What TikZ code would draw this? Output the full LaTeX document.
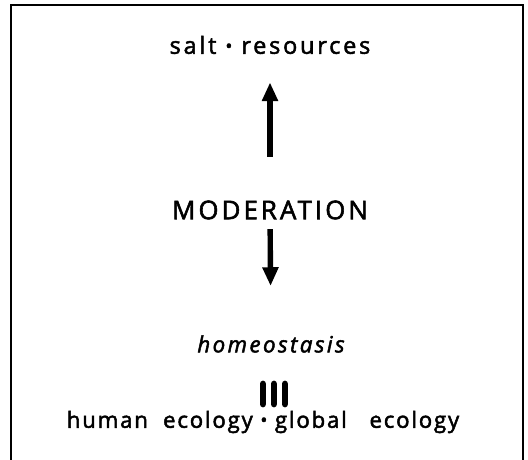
\documentclass[tikz,border=0pt]{standalone}
\usepackage{fontspec}
\setmainfont{Open Sans}
\usetikzlibrary{arrows.meta}
\newcommand{\middot}{\raisebox{1pt}{\fontsize{16}{16}\selectfont\textbullet}}
\tikzset{
  word/.style={inner sep=0pt,font=\fontsize{19}{22}\selectfont\addfontfeature{FakeBold=2.2}},
  bigarrow/.style={-{Triangle[width=13pt,length=16pt]},line width=4.6pt},
  bar/.style={line width=5.8pt,line cap=round}
}
\begin{document}
\begin{tikzpicture}[x=0.03cm,y=-0.03cm]
  % helper grid: comment for final drawing
  % \draw[help lines,step=10] (0,0) grid (528,460);
  \useasboundingbox (0,0) rectangle (528,460);
  \draw[line width=1.1pt] (11,460) -- (11,5) -- (523,5) -- (523,460);
  \node[word] (salt)  at (270,45)  {\fontsize{20}{22}\selectfont\addfontfeature{LetterSpace=12}salt \middot{} resources};
  \node[word] (moder) at (270,210) {\fontsize{22}{24}\selectfont\addfontfeature{LetterSpace=12}MODERATION};
  \node[word] (homeo) at (271,344) {\itshape\addfontfeature{LetterSpace=11}homeostasis};
  \node[word] (eco)   at (263,422) {\addfontfeature{LetterSpace=8}human\ \ ecology \middot{} global\ \ \ ecology};
  \draw[bigarrow,shorten <=37pt,shorten >=24pt] (moder) -- (salt);
  \draw[bigarrow,shorten <=8pt,shorten >=42pt] (moder) -- (homeo);
  \foreach \x in {263,274,285}
    \draw[bar] (\x,384) -- (\x,404);
\end{tikzpicture}
\end{document}
